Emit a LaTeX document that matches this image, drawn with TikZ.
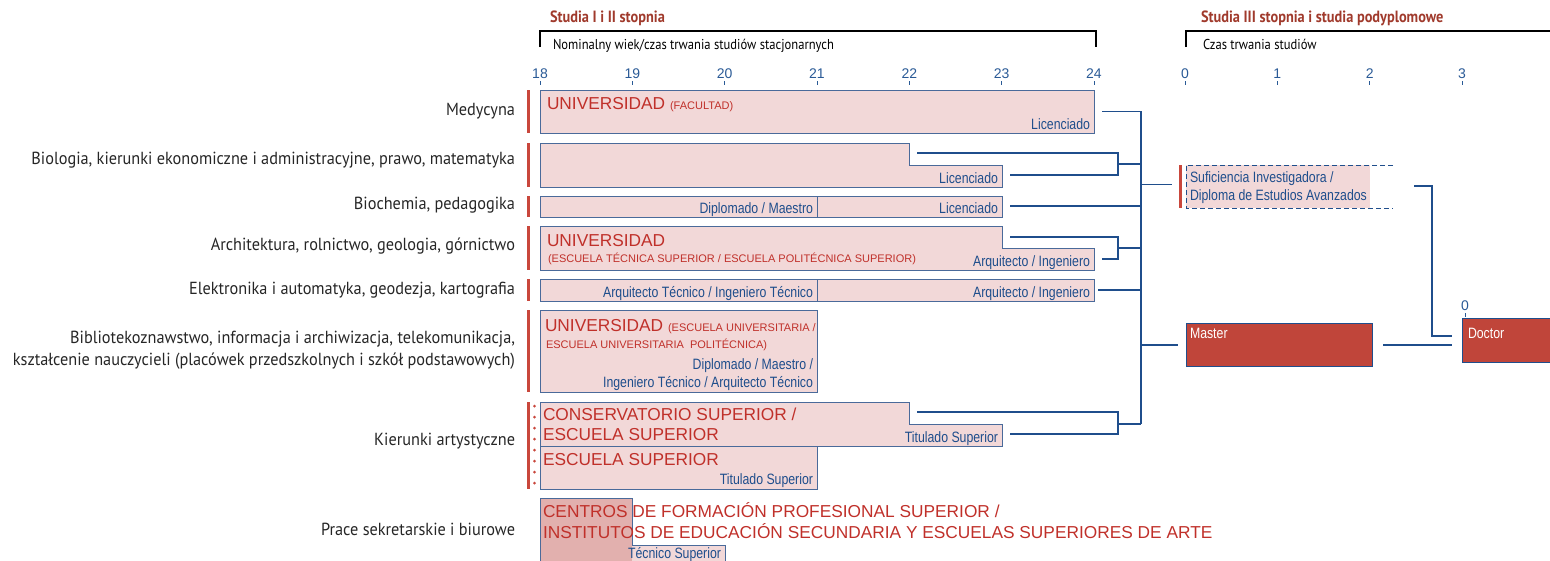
\documentclass[tikz,border=0pt]{standalone}
\usepackage{fontspec}
\setmainfont{Liberation Sans}
\newfontfamily\narrowf[FakeStretch=0.82]{Liberation Sans}
\newfontfamily\labf[FakeStretch=0.93]{PT Sans}
\newfontfamily\hdrf[FakeStretch=0.88]{PT Sans}
\definecolor{lineblue}{HTML}{1F4E8C}
\definecolor{boxblue}{HTML}{4A6A9A}
\definecolor{pinkfill}{HTML}{F2D8D8}
\definecolor{darkpink}{HTML}{E2B0AE}
\definecolor{redtxt}{HTML}{C0302A}
\definecolor{redbar}{HTML}{C9473C}
\definecolor{headred}{HTML}{A03A2C}
\definecolor{masterred}{HTML}{C0453A}
\definecolor{numblue}{HTML}{2A5A96}
\begin{document}
\begin{tikzpicture}[x=1pt,y=-1pt,
 every node/.style={inner sep=0pt, outer sep=0pt},
 box/.style={draw=boxblue, fill=pinkfill, line width=0.9pt},
 rbox/.style={box, rectangle, anchor=north west},
 conn/.style={draw=lineblue, line width=2.6pt},
 tconn/.style={draw=lineblue, line width=1pt},
 redbarline/.style={draw=redbar, line width=3pt},
 lbl/.style={font=\labf\fontsize{17.5}{22}\selectfont, anchor=east, align=right, text=black!85},
 redbig/.style={font=\fontsize{17.3}{20}\selectfont, text=redtxt, anchor=base west},
 redsmall/.style={font=\fontsize{11}{12}\selectfont, text=redtxt, anchor=base west},
 bt/.style={font=\narrowf\fontsize{15}{17}\selectfont, text=lineblue, anchor=base east},
 btw/.style={font=\narrowf\fontsize{15}{17}\selectfont, text=white, anchor=base west},
 num/.style={font=\fontsize{14}{16}\selectfont, text=numblue, anchor=base},
 hdr/.style={font=\hdrf\bfseries\fontsize{16.3}{18}\selectfont, text=headred, anchor=base west},
 subhdr/.style={font=\hdrf\fontsize{14.3}{16}\selectfont, text=black, anchor=base west},
 tick/.style={draw=numblue, line width=0.8pt},
]
\useasboundingbox (0,0) rectangle (1550,560);

% ---------- headers ----------
\node[hdr] (h1) at (550,22) {Studia I i II stopnia};
\draw[line width=1.6pt] (540,47) -- (540,31) -- (1096,31) -- (1096,47);
\node[subhdr] (s1) at (553,49) {Nominalny wiek/czas trwania studiów stacjonarnych};
\node[hdr] (h2) at (1201,22) {Studia III stopnia i studia podyplomowe};
\draw[line width=1.6pt] (1186,47) -- (1186,31) -- (1560,31);
\node[subhdr] (s2) at (1203,49) {Czas trwania studiów};

% ---------- axes ----------
\foreach \i in {0,...,6}{
  \pgfmathtruncatemacro{\yr}{18+\i}
  \node[num] (ax\i) at ({540+92.33*\i},78) {\yr};
  \draw[tick] ({540+92.33*\i},81) -- ({540+92.33*\i},85);
}
\foreach \i in {0,...,3}{
  \node[num] (bx\i) at ({1185+92.33*\i},78) {\i};
  \draw[tick] ({1185+92.33*\i},81) -- ({1185+92.33*\i},85);
}

% ---------- left labels and bars ----------
\node[lbl] (l1) at (515,111) {Medycyna};
\node[lbl] (l2) at (515,160) {Biologia, kierunki ekonomiczne i administracyjne, prawo, matematyka};
\node[lbl] (l3) at (515,205) {Biochemia, pedagogika};
\node[lbl] (l4) at (515,246) {Architektura, rolnictwo, geologia, górnictwo};
\node[lbl] (l5) at (515,290) {Elektronika i automatyka, geodezja, kartografia};
\node[lbl] (l6) at (515,350) {Bibliotekoznawstwo, informacja i archiwizacja, telekomunikacja,\\kształcenie nauczycieli (placówek przedszkolnych i szkół podstawowych)};
\node[lbl] (l7) at (515,441) {Kierunki artystyczne};
\node[lbl] (l8) at (515,529) {Prace sekretarskie i biurowe};

\draw[redbarline] (528,90) -- (528,133);
\draw[redbarline] (528,143) -- (528,187);
\draw[redbarline] (528,196) -- (528,217);
\draw[redbarline] (528,226) -- (528,270);
\draw[redbarline] (528,279) -- (528,301);
\draw[redbarline] (528,310) -- (528,392);
\draw[redbarline] (528,402) -- (528,489);
\foreach \yy in {406,417,...,488}{ \fill[redbar] (534.5,\yy) circle (1.5pt); }

% ---------- row 1 ----------
\node[rbox, minimum width=554pt, minimum height=43pt] (b1) at (540,90) {};
\node[redbig] (t1) at (547,109.5) {UNIVERSIDAD \fontsize{11}{12}\selectfont(FACULTAD)};
\node[bt] (d1) at (1090,129) {Licenciado};

% ---------- row 2 ----------
\draw[box] (540,143) -- (909,143) -- (909,165) -- (1002,165) -- (1002,187) -- (540,187) -- cycle;
\node[bt] (d2) at (998,183) {Licenciado};

% ---------- row 3 ----------
\node[rbox, minimum width=277pt, minimum height=21pt] (b3a) at (540,196) {};
\node[rbox, minimum width=185pt, minimum height=21pt] (b3b) at (817,196) {};
\node[bt] (d3a) at (813,213) {Diplomado / Maestro};
\node[bt] (d3b) at (998,213) {Licenciado};

% ---------- row 4 ----------
\draw[box] (540,226) -- (1002,226) -- (1002,248) -- (1094,248) -- (1094,270) -- (540,270) -- cycle;
\node[redbig] (t4) at (547,246) {UNIVERSIDAD};
\node[redsmall] (t4b) at (548,262) {(ESCUELA TÉCNICA SUPERIOR / ESCUELA POLITÉCNICA SUPERIOR)};
\node[bt] (d4) at (1090,266) {Arquitecto / Ingeniero};

% ---------- row 5 ----------
\node[rbox, minimum width=277pt, minimum height=22pt] (b5a) at (540,279) {};
\node[rbox, minimum width=277pt, minimum height=22pt] (b5b) at (817,279) {};
\node[bt] (d5a) at (813,297) {Arquitecto Técnico / Ingeniero Técnico};
\node[bt] (d5b) at (1090,297) {Arquitecto / Ingeniero};

% ---------- row 6 ----------
\node[rbox, minimum width=277pt, minimum height=82pt] (b6) at (540,310) {};
\node[redbig] (t6) at (545,331) {UNIVERSIDAD \fontsize{11}{12}\selectfont(ESCUELA UNIVERSITARIA /};
\node[redsmall] (t6b) at (546,348) {ESCUELA UNIVERSITARIA\ \ POLITÉCNICA)};
\node[bt] (d6a) at (813,369) {Diplomado / Maestro /};
\node[bt] (d6b) at (813,387) {Ingeniero Técnico / Arquitecto Técnico};

% ---------- row 7 ----------
\draw[box] (540,402) -- (909,402) -- (909,424) -- (1002,424) -- (1002,446) -- (540,446) -- cycle;
\node[redbig] (t7a) at (543,420) {CONSERVATORIO SUPERIOR /};
\node[redbig] (t7b) at (543,440) {ESCUELA SUPERIOR};
\node[bt] (d7a) at (998,442) {Titulado Superior};
\node[rbox, minimum width=277pt, minimum height=43pt] (b7b) at (540,446) {};
\node[redbig] (t7c) at (543,465) {ESCUELA SUPERIOR};
\node[bt] (d7b) at (813,484) {Titulado Superior};

% ---------- row 8 ----------
\fill[darkpink] (540,498) rectangle (632,565);
\fill[pinkfill] (632,545) rectangle (725,565);
\draw[draw=boxblue, line width=0.9pt] (540,565) -- (540,498) -- (632,498) -- (632,545) -- (725,545) -- (725,565);
\node[redbig] (t8a) at (543,517) {CENTROS DE FORMACIÓN PROFESIONAL SUPERIOR /};
\node[redbig] (t8b) at (543,538) {INSTITUTOS DE EDUCACIÓN SECUNDARIA Y ESCUELAS SUPERIORES DE ARTE};
\node[bt] (d8) at (721,558) {Técnico Superior};

% ---------- connectors (left part) ----------
\coordinate (c1) at (1102,111);
\coordinate (m1) at (1141,111);
\coordinate (m7) at (1141,424);
\draw[tconn] (c1) -- (m1);
\draw[conn] (m1) -- (m7);

\coordinate (c2a) at (917,153);
\coordinate (c2b) at (1010,175);
\coordinate (j2) at (1118,164);
\coordinate (m2) at (1141,164);
\draw[conn] (c2a) -| (j2) |- (c2b);
\draw[conn] (j2) -- (m2);

\coordinate (c3) at (1010,206);
\coordinate (m3) at (1141,206);
\draw[conn] (c3) -- (m3);

\coordinate (c4a) at (1010,237);
\coordinate (c4b) at (1102,259);
\coordinate (j4) at (1118,248);
\coordinate (m4) at (1141,248);
\draw[conn] (c4a) -| (j4) |- (c4b);
\draw[conn] (j4) -- (m4);

\coordinate (c5) at (1098,290);
\coordinate (m5) at (1141,290);
\draw[conn] (c5) -- (m5);

\coordinate (c7a) at (917,412);
\coordinate (c7b) at (1010,434);
\coordinate (j7) at (1118,424);
\draw[conn] (c7a) -| (j7) |- (c7b);
\draw[conn] (j7) -- (m7);

% ---------- right part ----------
\fill[pinkfill] (1186,165) rectangle (1370,208);
\draw[lineblue, line width=0.9pt, dash pattern=on 5pt off 3pt] (1393,165) -- (1186,165) -- (1186,208) -- (1393,208);
\draw[redbarline] (1180,165) -- (1180,208);
\node[font=\narrowf\fontsize{15}{17}\selectfont, text=lineblue, anchor=base west] (su1) at (1190,182) {Suficiencia Investigadora /};
\node[font=\narrowf\fontsize{15}{17}\selectfont, text=lineblue, anchor=base west] (su2) at (1190,200) {Diploma de Estudios Avanzados};
\coordinate (ms) at (1141,184);
\coordinate (su) at (1172,184);
\draw[tconn] (ms) -- (su);

\node[rectangle, draw=lineblue, fill=masterred, line width=0.9pt, anchor=north west, minimum width=186pt, minimum height=43pt] (master) at (1186,323) {};
\node[btw] (mt) at (1190,338) {Master};
\coordinate (mm) at (1141,345);
\coordinate (mi) at (1178,345);
\draw[conn] (mm) -- (mi);

\node[num] (dz) at (1465,310) {0};
\draw[tick] (1465,313) -- (1465,317);
\node[rectangle, draw=lineblue, fill=masterred, line width=0.9pt, anchor=north west, minimum width=100pt, minimum height=44pt] (doctor) at (1462,318) {};
\node[btw] (dt) at (1468,338) {Doctor};

\coordinate (mo) at (1383,345);
\coordinate (di) at (1452,345);
\draw[conn] (mo) -- (di);
\coordinate (so) at (1414,186);
\coordinate (dj) at (1452,336);
\draw[conn] (so) -- (1432,186) |- (dj);
\end{tikzpicture}
\end{document}
